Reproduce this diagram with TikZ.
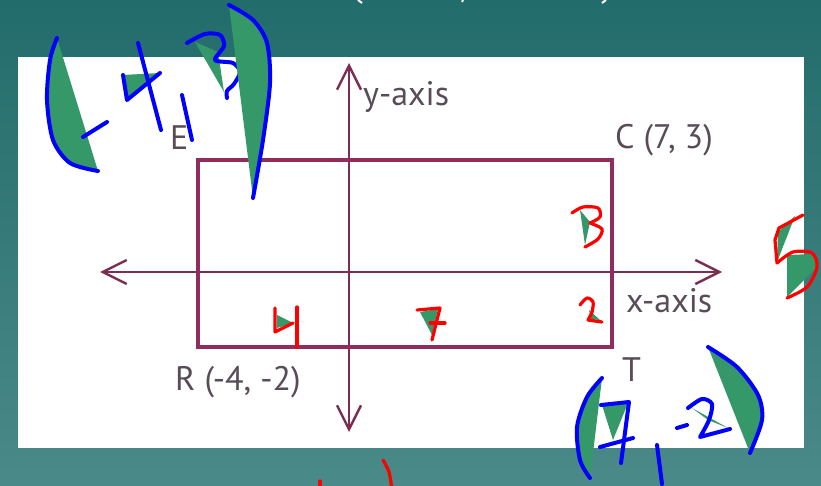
\documentclass[tikz,border=0pt]{standalone}
\usepackage{fontspec}
\setmainfont{PT Sans}
\usetikzlibrary{arrows.meta}
\definecolor{bgtop}{RGB}{35,108,108}
\definecolor{bgbot}{RGB}{74,138,136}
\definecolor{axiscol}{RGB}{125,45,82}
\definecolor{rectcol}{RGB}{145,45,92}
\definecolor{labelcol}{RGB}{88,76,86}
\definecolor{inkblue}{RGB}{0,0,255}
\definecolor{inkred}{RGB}{255,0,0}
\definecolor{inkgreen}{RGB}{53,152,104}
\tikzset{
  axisline/.style={draw=axiscol, line width=2.4pt, {Straight Barb[length=24pt,width=24pt]}-{Straight Barb[length=24pt,width=24pt]}},
  rectline/.style={draw=rectcol, line width=3.6pt},
  lbl/.style={text=labelcol, inner sep=0pt, font=\fontsize{34}{36}\selectfont},
  blueink/.style={draw=inkblue, line width=4pt, line cap=round, line join=round},
  redink/.style={draw=inkred, line width=3.2pt, line cap=round, line join=round},
  greenfill/.style={fill=inkgreen},
}
\begin{document}
\begin{tikzpicture}[x=1pt,y=-1pt]
\useasboundingbox (0,0) rectangle (821,486);
\shade[top color=bgtop,bottom color=bgbot] (0,0) rectangle (821,486);
\fill[white] (18,57) rectangle (804,448);
% tiny white remnants of title at top edge
\draw[white, line width=2pt] (358,0) -- (362,3);
\draw[white, line width=2pt] (463,0) -- (462,2);
\draw[white, line width=2pt] (606,0) -- (602,3);

% axes
\coordinate (xl) at (100,272);
\coordinate (xr) at (722,272);
\coordinate (yt) at (349,63);
\coordinate (yb) at (349,432);
\draw[axisline] (xl) -- (xr);
\draw[axisline] (yb) -- (yt);

% rectangle
\coordinate (E) at (198,160);
\coordinate (C) at (612,160);
\coordinate (R) at (198,347);
\coordinate (T) at (612,347);
\draw[rectline] (E) rectangle (T);

% labels
\node[lbl, anchor=base west] (ylab) at (363,106) {y-axis};
\node[lbl, anchor=base west] (clab) at (615,149) {C (7, 3)};
\node[lbl, anchor=base west] (elab) at (170,150) {E};
\node[lbl, anchor=base west] (xlab) at (626,312) {x-axis};
\node[lbl, anchor=base west] (rlab) at (175,390) {R (-4, -2)};
\node[lbl, anchor=base west] (tlab) at (622,381) {T};

% ---- blue handwriting (-4,3) ----
\fill[greenfill] plot[smooth] coordinates {(57,38) (50,60) (47,100) (53,140) (70,163) (98,171)} -- cycle;
\draw[blueink] plot[smooth] coordinates {(57,38) (50,60) (47,100) (53,140) (70,163) (98,171)};
\draw[blueink] (83,137) -- (107,122);
\fill[greenfill] (123,75) -- (160,73) -- (128,97) -- cycle;
\draw[blueink] (123,75) -- (127,100) -- (160,73);
\draw[blueink] (138,43) -- (161,130);
\draw[blueink] (182,95) -- (192,140);
\fill[greenfill] (195,42) -- (218,52) -- (224,92) -- cycle;
\draw[blueink] plot[smooth] coordinates {(187,43) (205,34) (220,35) (224,46) (215,60) (233,63) (240,72) (234,84) (227,91) (227,98)};
\fill[greenfill] plot[smooth] coordinates {(229,5) (253,20) (267,43) (270,83) (263,140) (253,198)} -- cycle;
\draw[blueink] plot[smooth] coordinates {(229,5) (253,20) (267,43) (270,83) (263,140) (253,198)};

% ---- blue handwriting (7,-2) ----
\fill[greenfill] plot[smooth] coordinates {(602,378) (587,397) (577,427) (580,460) (590,478)} -- cycle;
\draw[blueink] plot[smooth] coordinates {(602,378) (587,397) (577,427) (580,460) (590,478)};
\fill[greenfill] (602,405) -- (628,403) -- (613,440) -- cycle;
\draw[blueink] (601,405) -- (629,402) -- (621,463);
\draw[blueink] (600,447) -- (633,438);
\draw[blueink] (657,445) -- (662,484);
\draw[blueink] (677,428) -- (687,425);
\fill[greenfill] (692,408) -- (708,420) -- (728,428) -- cycle;
\draw[blueink] plot[smooth] coordinates {(688,408) (702,399) (712,404) (709,420) (700,437)} -- (730,429);
\fill[greenfill] plot[smooth] coordinates {(708,347) (737,367) (758,395) (762,420) (750,453)} -- cycle;
\draw[blueink] plot[smooth] coordinates {(708,347) (737,367) (758,395) (762,420) (750,453)};

% ---- red numbers ----
% 3
\fill[greenfill] (580,210) -- (590,222) -- (585,245) -- cycle;
\draw[redink] plot[smooth] coordinates {(572,213) (583,207) (598,208) (600,217) (590,223)};
\draw[redink] plot[smooth] coordinates {(590,223) (602,229) (598,239) (585,247)};
% 2
\fill[greenfill] (589,310) -- (600,320) -- (591,319) -- cycle;
\draw[redink] plot[smooth] coordinates {(580,305) (587,298) (593,302) (592,312) (588,320)} -- (602,322);
% 5
\fill[greenfill] (795,216) -- (778,232) -- (777,262) -- cycle;
\fill[greenfill] (787,255) -- (814,254) -- (816,268) -- (787,297) -- cycle;
\draw[redink] (803,215) -- (779,228) -- (775,240) -- (777,263);
\draw[redink] plot[smooth] coordinates {(777,263) (793,252) (812,253) (817,267) (807,287) (787,298)};
% 4
\fill[greenfill] (277,315) -- (293,323) -- (277,328) -- cycle;
\draw[redink] (275,308) -- (275,332) -- (293,323);
\draw[redink] (297,307) -- (297,347);
% 7
\fill[greenfill] (420,312) -- (438,309) -- (432,335) -- cycle;
\draw[redink] (417,310) -- (440,308) -- (432,340);
\draw[redink] (430,323) -- (445,323);
% bottom fragments
\draw[redink] (320,481) -- (320,490);
\fill[greenfill] plot[smooth] coordinates {(384,460) (390,472) (393,490)} -- (390,490) -- cycle;
\draw[redink] plot[smooth] coordinates {(383,460) (389,472) (392,490)};
\end{tikzpicture}
\end{document}
